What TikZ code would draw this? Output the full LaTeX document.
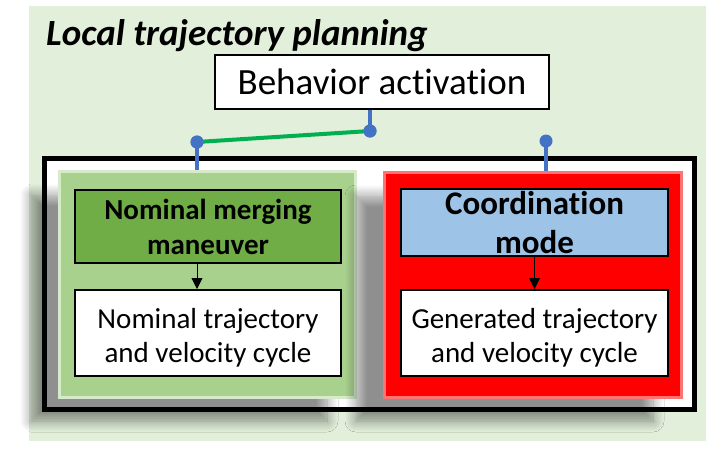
\documentclass[tikz,border=0pt]{standalone}
\usepackage{fontspec}
\setmainfont[Ligatures=NoCommon]{Carlito}
\usepackage{tikz}
\usetikzlibrary{arrows.meta,positioning,calc,shadows.blur}
\definecolor{bggreen}{HTML}{E2EFDA}
\definecolor{nomgreen}{HTML}{A9D18E}
\definecolor{nomdark}{HTML}{70AD47}
\definecolor{coordblue}{HTML}{9DC3E6}
\definecolor{linkblue}{HTML}{4472C4}
\definecolor{linkgreen}{HTML}{00B050}

\begin{document}
\begin{tikzpicture}[x=1pt,y=-1pt,
  panel/.style={line width=3pt,minimum width=296pt,minimum height=226pt,inner sep=0pt,
    blur shadow={shadow xshift=-28pt,shadow yshift=-24pt,shadow blur radius=11pt,
      shadow blur steps=12,shadow opacity=44}},
  headbox/.style={draw=black,line width=2.5pt,minimum width=266pt,inner sep=0pt,align=center},
  trajbox/.style={draw=black,line width=2pt,fill=white,minimum width=266pt,minimum height=86pt,
    inner sep=0pt,align=center,text height=63pt,font=\fontsize{29}{34}\selectfont},
  link/.style={linkblue,line width=4pt},
  flow/.style={-{Triangle[length=11pt,width=11pt]},line width=0.9pt},
  dot/.style={circle,fill=linkblue,minimum size=13pt,inner sep=0pt}]
  \useasboundingbox (0,0) rectangle (706,450);
  % background and title
  \fill[bggreen] (29,6) rectangle (706,441);
  \node[anchor=base west,inner sep=0pt,font=\bfseries\itshape\fontsize{37}{42}\selectfont] (title) at (46,45) {Local trajectory planning};
  \node[draw=black,line width=2pt,fill=white,minimum width=334pt,minimum height=54pt,inner sep=0pt,
    font=\fontsize{37}{42}\selectfont] (behav) at (382,82) {Behavior activation};
  % outer frame
  \node[draw=black,fill=white,line width=5pt,minimum width=650pt,minimum height=251pt] (frame) at (369.5,284) {};
  % two behaviour panels
  \node[panel,fill=nomgreen,draw=nomgreen!45!white] (nom) at (207,284) {};
  \node[panel,fill=red,draw=red!55!white,minimum width=297pt,minimum height=225pt] (coop) at (532.5,284.5) {};
  \node[headbox,fill=nomdark,minimum height=73pt,font=\bfseries\fontsize{29}{35}\selectfont] (nomhead) at (208,226.5) {Nominal merging\\maneuver};
  \node[headbox,fill=coordblue,minimum width=267pt,minimum height=67pt,font=\bfseries\fontsize{33}{39}\selectfont] (coordhead) at (534.5,222.5) {Coordination\\mode};
  \node[trajbox] (nomtraj) at (208,333) {Nominal trajectory\\and velocity cycle};
  \node[trajbox,minimum width=267pt] (gentraj) at (534.5,333) {Generated trajectory\\and velocity cycle};
  % inner arrows
  \node[dot] (dl) at (197,142) {};
  \node[dot] (dm) at (370,131) {};
  \node[dot] (dr) at (546,141) {};
  \draw[flow] (dl |- nomhead.south) -- (dl |- nomtraj.north);
  \draw[flow] (coordhead.south -| gentraj.north) -- (gentraj.north);
  % activation links
  \draw[link] (behav.south -| dm) -- (dm.center);
  \draw[link] (dl.center) -- (dl |- nom.north);
  \draw[link] (dr.center) -- (dr |- coop.north);
  \draw[linkgreen,line width=4pt] (dl.center) -- (dm.center);
  \node[dot] at (dl) {};
  \node[dot] at (dm) {};
\end{tikzpicture}
\end{document}
